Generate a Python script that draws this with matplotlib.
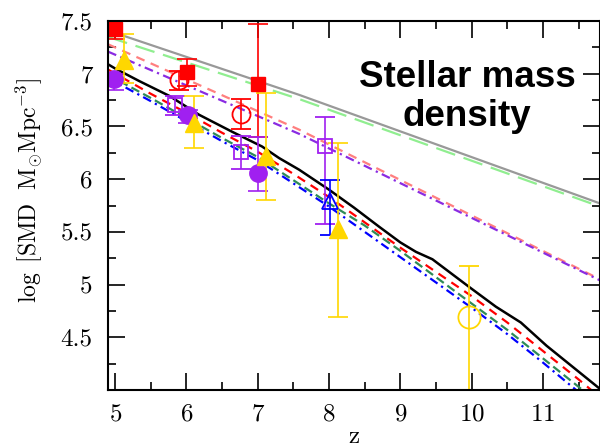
import matplotlib
matplotlib.use("Agg")
import matplotlib.pyplot as plt
import matplotlib.ticker as ticker

plt.rcParams["font.family"] = ["cmr10", "DejaVu Serif"]
plt.rcParams["mathtext.fontset"] = "cm"
plt.rcParams["axes.formatter.use_mathtext"] = True

# model curves
black_z = [4.9, 5.0, 5.34, 5.76, 6.18, 6.64, 7.06, 7.30, 7.58, 8.0, 8.35, 8.70,
           9.0, 9.22, 9.45, 9.96, 10.34, 10.69, 11.05, 11.8]
black_y = [7.09, 7.05, 6.93, 6.79, 6.61, 6.45, 6.31, 6.20, 6.09, 5.90, 5.73, 5.55,
           5.40, 5.31, 5.24, 4.98, 4.79, 4.64, 4.42, 4.01]

z_model = [4.9, 5.5, 6.0, 6.5, 7.0, 7.5, 8.0, 8.5, 9.0, 9.5, 10.0, 10.5, 11.0, 11.5, 11.8]
red_y = [7.04, 6.81, 6.63, 6.44, 6.26, 6.05, 5.83, 5.59, 5.35, 5.12, 4.89, 4.64, 4.37, 4.10, 3.93]
green_y = [6.99, 6.77, 6.58, 6.39, 6.21, 5.99, 5.77, 5.56, 5.32, 5.07, 4.82, 4.57, 4.30, 4.03, 3.86]
blue_y = [6.96, 6.74, 6.55, 6.36, 6.18, 5.96, 5.74, 5.50, 5.26, 5.02, 4.78, 4.53, 4.26, 3.98, 3.82]

z_upper = [4.9, 7.58, 11.8]
gray_y = [7.41, 6.80, 5.77]
lgreen_y = [7.35, 6.76, 5.74]
salmon_y = [7.28, 6.47, 5.05]
violet_y = [7.21, 6.43, 5.04]

# observations
sq_red_z = [5.0, 6.01, 7.01]
sq_red_y = [7.42, 7.02, 6.90]
sq_red_lo = [0.09, 0.14, 0.50]
sq_red_hi = [0.09, 0.12, 0.57]

circ_red_z = [5.9, 6.76]
circ_red_y = [6.94, 6.62]
circ_red_err = [0.09, 0.14]

dot_pur_z = [4.99, 6.02, 7.0]
dot_pur_y = [6.95, 6.61, 6.06]
dot_pur_lo = [0.1, 0.08, 0.17]
dot_pur_hi = [0.05, 0.05, 0.34]

sq_pur_z = [5.84, 6.76, 7.94]
sq_pur_y = [6.70, 6.26, 6.31]
sq_pur_lo = [0.09, 0.16, 0.74]
sq_pur_hi = [0.09, 0.15, 0.28]

tri_blue_z = [8.01]
tri_blue_y = [5.79]
tri_blue_lo = [0.32]
tri_blue_hi = [0.20]

tri_gold_z = [5.12, 6.11, 7.11, 8.12]
tri_gold_y = [7.13, 6.53, 6.22, 5.53]
tri_gold_lo = [0.22, 0.23, 0.42, 0.84]
tri_gold_hi = [0.25, 0.26, 0.60, 0.81]

circ_gold_z = [9.96]
circ_gold_y = [4.69]
circ_gold_lo = [1.0]
circ_gold_hi = [0.49]

fig = plt.figure(figsize=(6.0, 4.48), dpi=100)
ax = fig.add_axes([0.18, 0.1295, 0.82, 0.8235])

ax.plot(z_upper, gray_y, color="#999999", lw=1.6)
ax.plot(z_upper, lgreen_y, color="#90EE90", lw=1.6, dashes=(9, 4))
ax.plot(z_upper, salmon_y, color="#FF7F7F", lw=1.6, dashes=(4, 3))
ax.plot(z_upper, violet_y, color="#8A2BE2", lw=1.6, dashes=(4, 2, 1, 2))
ax.plot(black_z, black_y, color="black", lw=1.8)
ax.plot(z_model, red_y, color="red", lw=1.6, dashes=(4, 3))
ax.plot(z_model, green_y, color="#2E8B57", lw=1.6, dashes=(4, 2))
ax.plot(z_model, blue_y, color="blue", lw=1.6, dashes=(4, 2, 1, 2))

eb = dict(linestyle="none", elinewidth=1.2, capsize=7, capthick=1.2)
ax.errorbar(sq_red_z, sq_red_y, yerr=[sq_red_lo, sq_red_hi], fmt="s", color="red",
            ms=10.5, **eb)
ax.errorbar(circ_red_z, circ_red_y, yerr=circ_red_err, fmt="o", color="red",
            mfc="none", mew=1.3, ms=13, **eb)
ax.errorbar(sq_pur_z, sq_pur_y, yerr=[sq_pur_lo, sq_pur_hi], fmt="s", color="#A020F0",
            mfc="none", mew=1.3, ms=9.5, **eb)
ax.errorbar(dot_pur_z, dot_pur_y, yerr=[dot_pur_lo, dot_pur_hi], fmt="o", color="#A020F0",
            ms=12.5, **eb)
ax.errorbar(tri_blue_z, tri_blue_y, yerr=[tri_blue_lo, tri_blue_hi], fmt="^", color="blue",
            mfc="none", mew=1.3, ms=11, **eb)
ax.errorbar(tri_gold_z, tri_gold_y, yerr=[tri_gold_lo, tri_gold_hi], fmt="^", color="#FFD700",
            ms=13, **eb)
ax.errorbar(circ_gold_z, circ_gold_y, yerr=[circ_gold_lo, circ_gold_hi], fmt="o",
            color="#FFD700", mfc="none", mew=1.3, ms=16, **eb)

ax.set_xlim(4.9, 11.8)
ax.set_ylim(4.0, 7.5)
ax.set_xticks([5, 6, 7, 8, 9, 10, 11])
ax.set_yticks([4.5, 5, 5.5, 6, 6.5, 7, 7.5])
ax.xaxis.set_minor_locator(ticker.MultipleLocator(0.5))
ax.yaxis.set_minor_locator(ticker.MultipleLocator(0.25))
ax.yaxis.set_major_formatter(ticker.FuncFormatter(lambda v, p: f"{v:g}"))
ax.tick_params(which="both", direction="in", top=True, right=True, width=1.2)
ax.tick_params(which="major", length=12, labelsize=18)
ax.tick_params(which="minor", length=6)
ax.tick_params(axis="x", pad=10)
ax.tick_params(axis="y", pad=11)
for s in ax.spines.values():
    s.set_linewidth(1.5)

ax.set_xlabel("z", fontsize=18, labelpad=0)
ax.set_ylabel(r"$\log\ [\mathrm{SMD}\ \ \mathrm{M}_{\odot}\mathrm{Mpc}^{-3}]$",
              fontsize=17)
ax.yaxis.set_label_coords(-0.13, 0.54)

ax.text(0.73, 0.795, "Stellar mass\ndensity", transform=ax.transAxes, ha="center",
        va="center", fontsize=26.5, fontweight="bold", family="Liberation Sans",
        linespacing=1.15)

fig.savefig("out.png", dpi=100)
